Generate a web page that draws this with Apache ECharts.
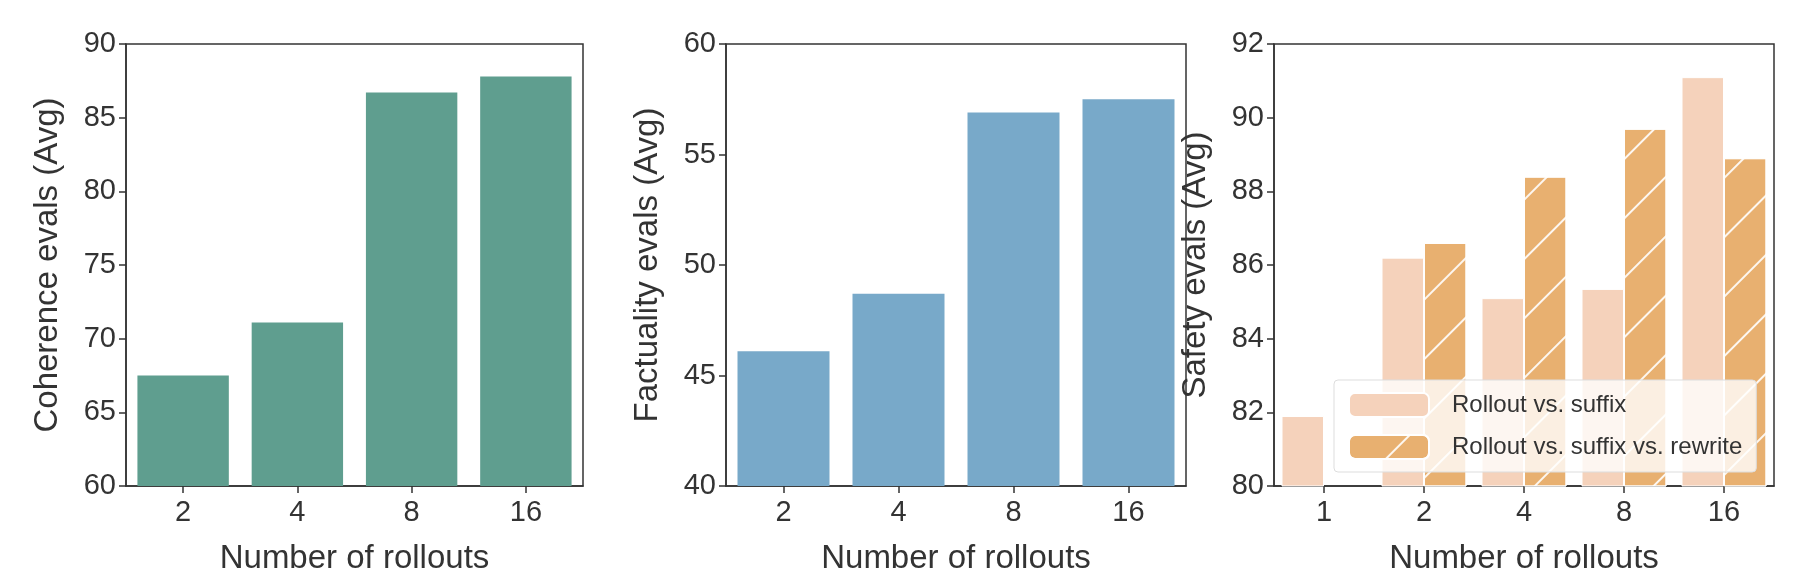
<!DOCTYPE html>
<html><head><meta charset="utf-8">
<script src="https://cdn.jsdelivr.net/npm/echarts@6/dist/echarts.min.js"></script>
<style>html,body{margin:0;background:#fff}#c{width:1800px;height:580px}</style>
</head><body><div id="c"></div>
<script>
const cats1 = ['2','4','8','16'];
const coherence = [67.5, 71.1, 86.7, 87.8];
const factuality = [46.1, 48.7, 56.9, 57.5];
const cats3 = ['1','2','4','8','16'];
const safetySuffix = [81.9, 86.2, 85.1, 85.35, 91.1];
const safetyRewrite = [null, 86.6, 88.4, 89.7, 88.9];
const F = 'Liberation Sans, Arial, sans-serif';
const C = '#333';
const chart = echarts.init(document.getElementById('c'));
function xAx(i, data){return {gridIndex:i,type:'category',data:data,name:'Number of rollouts',nameLocation:'middle',nameGap:56,
 nameTextStyle:{fontFamily:F,fontSize:33,color:C},axisLabel:{fontFamily:F,fontSize:29,color:C,margin:12},
 axisTick:{show:true,alignWithLabel:true,length:7,lineStyle:{color:C,width:1.5}},axisLine:{lineStyle:{color:C,width:1.5}}};}
function yAx(i,min,max,interval,name){return {gridIndex:i,type:'value',min:min,max:max,interval:interval,name:name,nameLocation:'middle',nameGap:62,
 nameTextStyle:{fontFamily:F,fontSize:33,color:C},axisLabel:{fontFamily:F,fontSize:29,color:C,margin:10},splitLine:{show:false},
 axisTick:{show:true,length:7,lineStyle:{color:C,width:1.5}},axisLine:{show:true,lineStyle:{color:C,width:1.5}}};}
const g = {top:44,bottom:93,show:true,borderColor:C,borderWidth:1.5,containLabel:false};
chart.setOption({
 animation:false,
 grid:[Object.assign({left:126,width:457},g),Object.assign({left:726,width:460},g),Object.assign({left:1274,width:500},g)],
 xAxis:[xAx(0,cats1),xAx(1,cats1),xAx(2,cats3)],
 yAxis:[yAx(0,60,90,5,'Coherence evals (Avg)'),yAx(1,40,60,5,'Factuality evals (Avg)'),yAx(2,80,92,2,'Safety evals (Avg)')],
 legend:{data:['Rollout vs. suffix','Rollout vs. suffix vs. rewrite'],orient:'vertical',left:1334,bottom:108,itemWidth:80,itemHeight:24,itemGap:16,
   padding:[12,14],backgroundColor:'rgba(255,255,255,0.8)',borderColor:'#ddd',borderWidth:1,borderRadius:4,
   textStyle:{fontFamily:F,fontSize:24,color:C,padding:[0,0,0,18]}},
 series:[
  {type:'bar',xAxisIndex:0,yAxisIndex:0,data:coherence,barCategoryGap:'20%',itemStyle:{color:'#5f9e8f'}},
  {type:'bar',xAxisIndex:1,yAxisIndex:1,data:factuality,barCategoryGap:'20%',itemStyle:{color:'#78a9c9'}},
  {type:'bar',name:'Rollout vs. suffix',xAxisIndex:2,yAxisIndex:2,data:safetySuffix,barGap:'0%',barCategoryGap:'15%',
    itemStyle:{color:'#f5d2bb',borderColor:'#fff',borderWidth:1}},
  {type:'bar',name:'Rollout vs. suffix vs. rewrite',xAxisIndex:2,yAxisIndex:2,data:safetyRewrite,barGap:'0%',barCategoryGap:'15%',
    itemStyle:{color:'#e8b070',borderColor:'#fff',borderWidth:1,
      decal:{symbol:'rect',symbolSize:1,color:'rgba(255,255,255,0.9)',dashArrayX:[1,0],dashArrayY:[2,40],rotation:-Math.PI/4}}}
 ]
});
</script></body></html>
